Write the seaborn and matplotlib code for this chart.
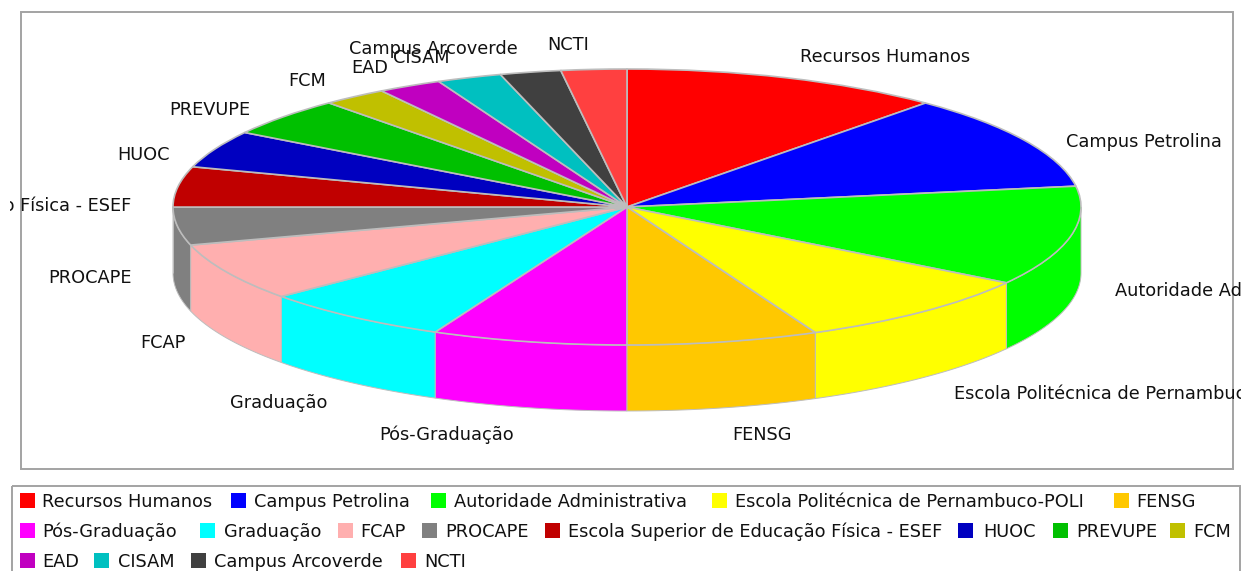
import numpy as np
import matplotlib
matplotlib.use("Agg")
import matplotlib.pyplot as plt
import seaborn as sns
from matplotlib.patches import Rectangle
from matplotlib.transforms import Bbox, TransformedBbox

# Slice names in drawing order (clockwise from the top)
categorias = [
    "Recursos Humanos", "Campus Petrolina", "Autoridade Administrativa",
    "Escola Politécnica de Pernambuco-POLI", "FENSG", "Pós-Graduação",
    "Graduação", "FCAP", "PROCAPE", "Escola Superior de Educação Física - ESEF",
    "HUOC", "PREVUPE", "FCM", "EAD", "CISAM", "Campus Arcoverde", "NCTI",
]
# Estimated share of each slice (%)
valores = [11.42, 11.17, 11.67, 8.94, 6.81, 6.94, 6.83, 6.78, 4.44, 4.72,
           4.36, 4.53, 2.31, 2.28, 2.31, 2.17, 2.33]
colores = [
    "#FF0000", "#0000FF", "#00FF00", "#FFFF00", "#FFC800", "#FF00FF",
    "#00FFFF", "#FFAFAF", "#808080", "#C00000", "#0000C0", "#00C000",
    "#C0C000", "#C000C0", "#00C0C0", "#404040", "#FF4040",
]

# Layout in image pixels
W, H = 1244, 571
CX, CY, RX, RY, PROF = 627, 207, 454, 138, 66
GRIS = "#bdbdbd"
pos_etiquetas = [
    (800, 57, "left"), (1066, 142, "left"), (1115, 291, "left"), (954, 394, "left"),
    (732, 435, "left"), (379, 435, "left"), (230, 403, "left"), (140, 343, "left"),
    (48, 278, "left"), (131, 206, "right"), (117, 155, "left"), (169, 110, "left"),
    (288, 81, "left"), (351, 68, "left"), (393, 58, "left"), (349, 49, "left"),
    (547, 45, "left"),
]
# Legend rows: y, swatch x and text x of every entry
filas_leyenda = [
    (501, [20, 231, 431, 712, 1114], [42, 254, 454, 735, 1136]),
    (531, [20, 200, 338, 422, 545, 958, 1053, 1170], [42, 224, 360, 445, 568, 983, 1076, 1193]),
    (561, [20, 94, 191, 401], [42, 118, 214, 424]),
]

sns.set_theme(style="white")
plt.rcParams["font.family"] = "DejaVu Sans"
paleta = sns.color_palette(colores)

fig = plt.figure(figsize=(W / 100, H / 100), dpi=100, facecolor="white")

# Pie axes: one data unit is RX pixels wide and RY pixels high
ax = fig.add_axes([0, 0, 1, 1])
ax.pie(valores, colors=paleta, startangle=90, counterclock=False, radius=1,
       wedgeprops={"edgecolor": GRIS, "linewidth": 1.2, "zorder": 3})
ax.set_aspect("auto")
ax.set_xlim(-CX / RX, (W - CX) / RX)
ax.set_ylim((CY - H) / RY, CY / RY)
ax.axis("off")

# Side wall of the pie, only the front half can be seen
fracciones = np.cumsum([0] + valores) / sum(valores) * 2 * np.pi
for ini, fin, color in zip(fracciones[:-1], fracciones[1:], paleta):
    ini_vis, fin_vis = max(ini, np.pi / 2), min(fin, 3 * np.pi / 2)
    if fin_vis <= ini_vis:
        continue
    t = np.linspace(ini_vis, fin_vis, 60)
    xs = np.sin(t)
    ys = np.cos(t)
    ax.fill(np.r_[xs, xs[::-1]], np.r_[ys, ys[::-1] - PROF / RY],
            facecolor=color, edgecolor=GRIS, linewidth=0.7, zorder=1)

# Overlay in pixel coordinates for frames, labels and legend
capa = fig.add_axes([0, 0, 1, 1], facecolor="none")
capa.set_xlim(0, W)
capa.set_ylim(H, 0)
capa.axis("off")

capa.add_patch(Rectangle((21, 12), 1212, 457, fill=False, edgecolor="#a3a3a3", linewidth=1.4))
capa.add_patch(Rectangle((12, 486), 1228, 100, fill=False, edgecolor="#a3a3a3", linewidth=1.4))

# Long labels are cut just outside the plot frame
recorte = TransformedBbox(Bbox([[10, 0], [1241, H]]), capa.transData)
for nombre, (x, y, alin) in zip(categorias, pos_etiquetas):
    txt = capa.text(x, y, nombre, ha=alin, va="center", fontsize=12.8,
                    color="#111111", clip_on=True)
    txt.set_clip_box(recorte)

indice = 0
for y, xs_caja, xs_texto in filas_leyenda:
    for xc, xt in zip(xs_caja, xs_texto):
        capa.add_patch(Rectangle((xc, y - 8), 15, 15, facecolor=paleta[indice], edgecolor="none"))
        capa.text(xt, y + 1, categorias[indice], ha="left", va="center", fontsize=12.8, color="#111111")
        indice += 1

fig.savefig("out.png", dpi=100)
